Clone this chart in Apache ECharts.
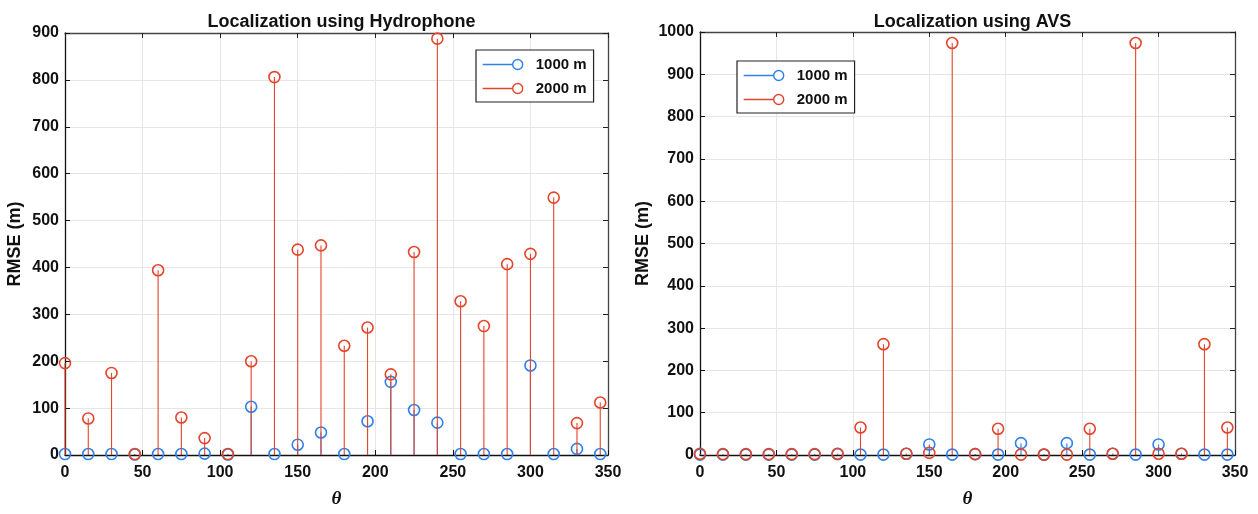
<!DOCTYPE html>
<html><head><meta charset="utf-8">
<script src="https://cdn.jsdelivr.net/npm/echarts@6/dist/echarts.min.js"></script>
<style>html,body{margin:0;padding:0;background:#fff}#c{width:1258px;height:514px}</style>
</head><body><div id="c"></div>
<script>
const theta = [0,15,30,45,60,75,90,105,120,135,150,165,180,195,210,225,240,255,270,285,300,315,330,345];
const hydro1000 = [2,2,2,1,2,2,3,1,103,2,22,48,2,72,156,96,69,2,2,2,191,2,13,2];
const hydro2000 = [196,78,175,2,394,80,36,2,200,806,438,447,233,272,172,433,888,328,275,407,429,549,68,112];
const avs1000 = [1,1,1,1,1,1,2,1,1,3,25,1,2,1,28,1,28,1,3,1,25,3,1,1];
const avs2000 = [3,2,2,2,2,2,3,65,262,3,5,974,2,62,1,1,1,62,3,974,3,3,262,65];
const seriesNames = ['1000 m','2000 m'];
const titles = ['Localization using Hydrophone','Localization using AVS'];
const xTicks = {min:0,max:350,interval:50};
const yMaxes = [900,1000];

const BLUE = '#2f80e8', RED = '#e2452c';
const FONT = '"Liberation Sans", Arial, sans-serif';

function pairs(v){ return theta.map((t,i)=>[t,v[i]]); }
function stem(name, data, color, gi){
  return {
    type:'custom', name, xAxisIndex: gi*2, yAxisIndex: gi*2,
    itemStyle:{color}, data: pairs(data), clip:false,
    renderItem(params, api){
      const x = api.value(0), y = api.value(1);
      const p0 = api.coord([x,0]), p1 = api.coord([x,y]);
      return {type:'group', children:[
        {type:'line', shape:{x1:p0[0],y1:p0[1],x2:p1[0],y2:p1[1]}, style:{stroke:color,lineWidth:1.1}},
        {type:'circle', shape:{cx:p1[0],cy:p1[1],r:5.5}, style:{fill:'none',stroke:color,lineWidth:1.6}}
      ]};
    }
  };
}
const grids = [
  {left:65, top:33, width:543, height:430},
  {left:700, top:32, width:535, height:423}
];
const xAxes = [], yAxes = [];
grids.forEach((g,gi)=>{
  xAxes.push({type:'value', gridIndex:gi, min:xTicks.min, max:xTicks.max, interval:xTicks.interval,
    name:'θ', nameLocation:'middle', nameGap:35,
    nameTextStyle:{fontFamily:'"Liberation Serif", serif', fontStyle:'italic', fontWeight:'bold', fontSize:19, color:'#111'},
    axisLine:{show:true,onZero:false,lineStyle:{color:'#111',width:1.3}},
    axisTick:{show:true,inside:true,length:5,lineStyle:{color:'#111'}},
    axisLabel:{fontFamily:FONT,fontSize:16,fontWeight:'bold',color:'#111',margin:10},
    splitLine:{show:true,lineStyle:{color:'#e6e6e6',width:1}}});
  xAxes.push({type:'value', gridIndex:gi, position:'top', min:xTicks.min, max:xTicks.max, interval:xTicks.interval,
    axisLine:{show:true,onZero:false,lineStyle:{color:'#444',width:1.3}},
    axisTick:{show:true,inside:true,length:5,lineStyle:{color:'#222'}},
    axisLabel:{show:false}, splitLine:{show:false}});
  yAxes.push({type:'value', gridIndex:gi, min:0, max:yMaxes[gi], interval:100,
    name:'RMSE (m)', nameLocation:'middle', nameGap: gi===0?41:48,
    nameTextStyle:{fontFamily:FONT,fontSize:18,fontWeight:'bold',color:'#111'},
    axisLine:{show:true,onZero:false,lineStyle:{color:'#111',width:1.3}},
    axisTick:{show:true,inside:true,length:5,lineStyle:{color:'#111'}},
    axisLabel:{fontFamily:FONT,fontSize:16,fontWeight:'bold',color:'#111',margin:6,formatter:v=>String(v)},
    splitLine:{show:true,lineStyle:{color:'#e6e6e6',width:1}}});
  yAxes.push({type:'value', gridIndex:gi, position:'right', min:0, max:yMaxes[gi], interval:100,
    axisLine:{show:true,onZero:false,lineStyle:{color:'#444',width:1.3}},
    axisTick:{show:true,inside:true,length:5,lineStyle:{color:'#222'}},
    axisLabel:{show:false}, splitLine:{show:false}});
});
const ICON = 'path://M0,6L30,6M30,6a5,5 0 1,0 10,0a5,5 0 1,0 -10,0';
function legendAt(left, top){
  return {left, top, orient:'vertical', itemWidth:40, itemHeight:10, itemGap:9,
    padding:[7,7,6,6], backgroundColor:'#fff', borderColor:'#222', borderWidth:1.2, borderRadius:0,
    textStyle:{fontFamily:FONT,fontSize:15,fontWeight:'bold',color:'#111',padding:[0,0,0,8]},
    data:[
      {name:seriesNames[0], icon:ICON, itemStyle:{color:'transparent',borderColor:BLUE,borderWidth:1.4}},
      {name:seriesNames[1], icon:ICON, itemStyle:{color:'transparent',borderColor:RED,borderWidth:1.4}}
    ]};
}
const option = {
  animation:false,
  title: titles.map((t,i)=>({text:t, left: grids[i].left + grids[i].width/2, top:8, textAlign:'center',
    textStyle:{fontFamily:FONT,fontSize:18,fontWeight:'bold',color:'#111'}})),
  legend:[legendAt(476,50), legendAt(737,61)],
  grid: grids,
  xAxis: xAxes, yAxis: yAxes,
  series:[
    stem(seriesNames[0], hydro1000, BLUE, 0),
    stem(seriesNames[1], hydro2000, RED, 0),
    stem(seriesNames[0], avs1000, BLUE, 1),
    stem(seriesNames[1], avs2000, RED, 1)
  ]
};
const chart = echarts.init(document.getElementById('c'), null, {renderer:'canvas'});
chart.setOption(option);
</script></body></html>
